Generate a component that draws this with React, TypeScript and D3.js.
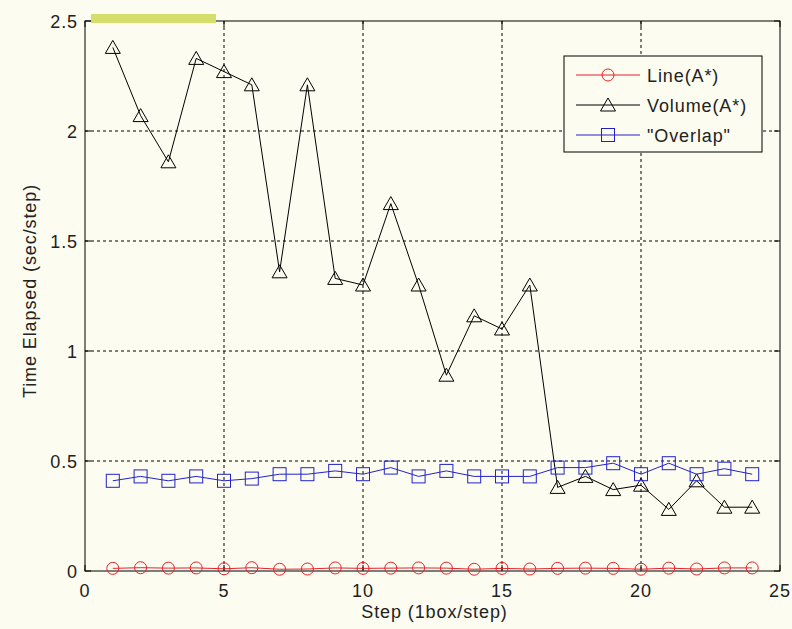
import React from "react";
import * as d3 from "d3";

const steps = [1,2,3,4,5,6,7,8,9,10,11,12,13,14,15,16,17,18,19,20,21,22,23,24];
const lineAStar = [0.012,0.015,0.013,0.014,0.010,0.015,0.008,0.009,0.014,0.012,0.013,0.014,0.013,0.008,0.012,0.009,0.012,0.013,0.012,0.008,0.013,0.009,0.014,0.014];
const volumeAStar = [2.38,2.07,1.86,2.33,2.27,2.21,1.36,2.21,1.33,1.30,1.67,1.30,0.89,1.16,1.10,1.30,0.38,0.43,0.37,0.39,0.28,0.41,0.29,0.29];
const overlap = [0.41,0.43,0.41,0.43,0.41,0.42,0.44,0.44,0.455,0.44,0.47,0.43,0.455,0.43,0.43,0.43,0.47,0.47,0.49,0.44,0.49,0.44,0.465,0.44];
const xTicks = [0,5,10,15,20,25];
const yTicks = [0,0.5,1,1.5,2,2.5];
const yTickLabels = ["0","0.5","1","1.5","2","2.5"];
const seriesNames = ["Line(A*)","Volume(A*)","\"Overlap\""];

const W = 792, H = 629;
const L = 85, R = 780, T = 21, B = 571;
const BG = "#fcfcf0";
const FONT = "'Liberation Sans', Arial, sans-serif";
const FS = 18;
const LS = 0.9;

function Marker({ kind, x, y, color }: { kind: string; x: number; y: number; color: string }) {
  if (kind === "circle") return <circle cx={x} cy={y} r={6} fill="none" stroke={color} strokeWidth={1} />;
  if (kind === "square") return <rect x={x - 6.5} y={y - 6.5} width={13} height={13} fill="none" stroke={color} strokeWidth={1} />;
  return <path d={`M${x},${y - 7}L${x + 7.5},${y + 6}L${x - 7.5},${y + 6}Z`} fill="none" stroke={color} strokeWidth={1} />;
}

export default function App() {
  const x = d3.scaleLinear().domain([0, 25]).range([L, R]);
  const y = d3.scaleLinear().domain([0, 2.5]).range([B, T]);
  const line = d3.line<number>().x((_, i) => x(steps[i])).y((d) => y(d));
  const series = [
    { name: seriesNames[0], data: lineAStar, color: "#e8202a", kind: "circle" },
    { name: seriesNames[1], data: volumeAStar, color: "#000000", kind: "triangle" },
    { name: seriesNames[2], data: overlap, color: "#2222cc", kind: "square" },
  ];
  const lgX = 564, lgY = 56, lgW = 198, lgH = 96;
  const txt = { fontSize: FS, fontFamily: FONT, fill: "#222", letterSpacing: LS } as any;
  return (
    <svg width={W} height={H} style={{ position: "absolute", left: 0, top: 0, background: BG }}>
      <rect x={0} y={0} width={W} height={H} fill={BG} />
      {/* grid */}
      {xTicks.filter((t) => t > 0 && t < 25).map((t) => (
        <line key={"gx" + t} x1={x(t)} x2={x(t)} y1={T} y2={B} stroke="#000" strokeWidth={1} strokeDasharray="3,3" />
      ))}
      {yTicks.filter((t) => t > 0 && t < 2.5).map((t) => (
        <line key={"gy" + t} x1={L} x2={R} y1={y(t)} y2={y(t)} stroke="#000" strokeWidth={1} strokeDasharray="3,3" />
      ))}
      {/* frame */}
      <rect x={L} y={T} width={R - L} height={B - T} fill="none" stroke="#000" strokeWidth={1} />
      {/* ticks */}
      {xTicks.map((t) => (
        <g key={"tx" + t}>
          <line x1={x(t)} x2={x(t)} y1={B} y2={B - 6} stroke="#000" />
          <line x1={x(t)} x2={x(t)} y1={T} y2={T + 6} stroke="#000" />
          <text x={x(t)} y={B + 26} textAnchor="middle" {...txt}>{t}</text>
        </g>
      ))}
      {yTicks.map((t, i) => (
        <g key={"ty" + t}>
          <line x1={L} x2={L + 6} y1={y(t)} y2={y(t)} stroke="#000" />
          <line x1={R} x2={R - 6} y1={y(t)} y2={y(t)} stroke="#000" />
          <text x={L - 7} y={y(t) + 6.5} textAnchor="end" {...txt}>{yTickLabels[i]}</text>
        </g>
      ))}
      {/* highlight artifact at top */}
      <rect x={L + 6} y={T - 7} width={x(5) - L - 14} height={9} fill="#d5de6c" />
      {/* series */}
      {series.map((s) => (
        <g key={s.name}>
          <path d={line(s.data) || ""} fill="none" stroke={s.color} strokeWidth={1} />
          {s.data.map((d, i) => (
            <Marker key={i} kind={s.kind} x={x(steps[i])} y={y(d)} color={s.color} />
          ))}
        </g>
      ))}
      {/* axis labels */}
      <text x={(L + R) / 2 + 2} y={B + 47} textAnchor="middle" {...txt}>Step (1box/step)</text>
      <text transform={`translate(36, 291) rotate(-90)`} textAnchor="middle" {...txt}>Time Elapsed (sec/step)</text>
      {/* legend */}
      <rect x={lgX} y={lgY} width={lgW} height={lgH} fill={BG} stroke="#000" strokeWidth={1} />
      {series.map((s, i) => {
        const cy = lgY + 19 + i * 30;
        return (
          <g key={"lg" + s.name}>
            <line x1={lgX + 12} x2={lgX + 76} y1={cy} y2={cy} stroke={s.color} strokeWidth={1} />
            <Marker kind={s.kind} x={lgX + 44} y={cy} color={s.color} />
            <text x={lgX + 83} y={cy + 6.5} {...txt}>{s.name}</text>
          </g>
        );
      })}
    </svg>
  );
}
